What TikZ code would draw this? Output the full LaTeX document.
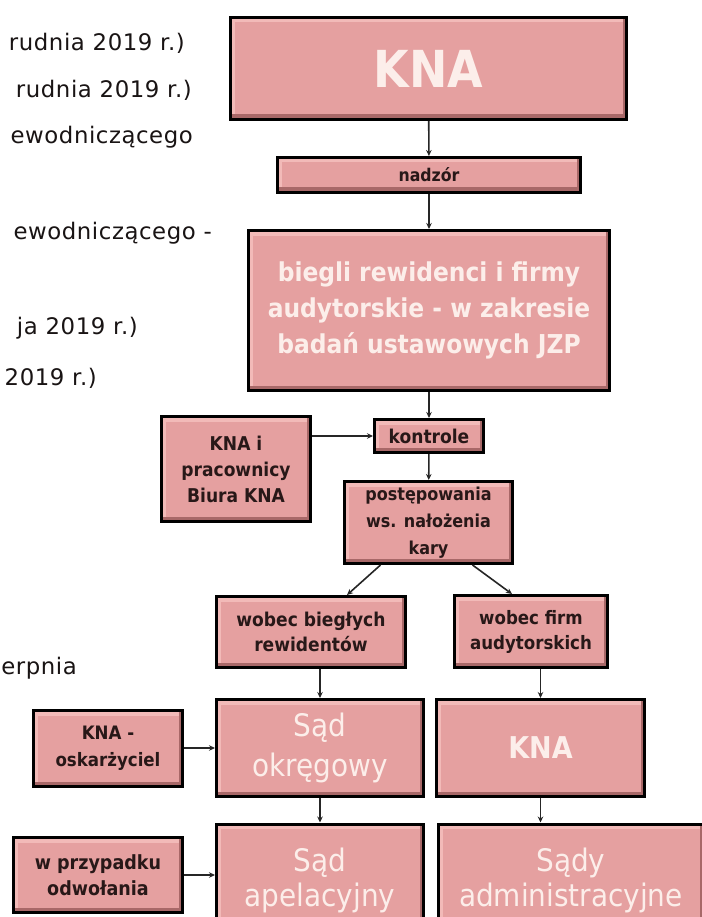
\documentclass[tikz,border=0pt]{standalone}
\usepackage{fontspec}
\setmainfont{DejaVu Sans Condensed}
\newfontfamily\sidefont[LetterSpace=2.5]{DejaVu Sans}
\usetikzlibrary{arrows.meta,calc}
\definecolor{boxpink}{RGB}{229,160,160}
\definecolor{boxlight}{RGB}{242,186,184}
\definecolor{boxdark}{RGB}{168,104,104}
\definecolor{lighttext}{RGB}{252,238,234}
\definecolor{darktext}{RGB}{40,24,24}
\definecolor{sidetext}{RGB}{25,20,20}
\newcommand{\fs}[2]{\fontsize{#1}{#2}\selectfont}
\tikzset{
  box/.style={draw=black, line width=3pt, fill=boxpink, inner sep=0pt, align=center,
    path picture={
      \fill[boxdark] (path picture bounding box.south west) rectangle ([yshift=5pt]path picture bounding box.south east);
      \fill[boxdark] (path picture bounding box.south east) rectangle ([xshift=-4pt]path picture bounding box.north east);
      \fill[boxlight] ([yshift=-5pt]path picture bounding box.north west) rectangle ([xshift=-4pt]path picture bounding box.north east);
      \fill[boxlight] ([yshift=5pt]path picture bounding box.south west) rectangle ([xshift=4pt,yshift=-5pt]path picture bounding box.north west);
      \fill[boxpink] ([xshift=4pt,yshift=5pt]path picture bounding box.south west) rectangle ([xshift=-4pt,yshift=-5pt]path picture bounding box.north east);
    }},
  bigtxt/.style={text=lighttext},
  smalltxt/.style={text=darktext, font=\bfseries},
  side/.style={anchor=east, text=sidetext, inner sep=0pt, font=\sidefont\fs{22.8}{28}},
  conn/.style={line width=1.6pt, draw=black!85, -{Stealth[length=6pt,width=5.5pt]}}
}
\begin{document}
\begin{tikzpicture}[x=1pt,y=-1pt]
\useasboundingbox (0,0) rectangle (701,917);
\fill[white] (0,0) rectangle (701,917);
% side text (partly visible)
\node[side] (t1) at (185,43) {rudnia 2019 r.)};
\node[side] (t2) at (192,90) {rudnia 2019 r.)};
\node[side] (t3) at (193,137) {ewodniczącego};
\node[side] (t4) at (212,233) {ewodniczącego~-};
\node[side] (t5) at (138,328) {ja 2019 r.)};
\node[side] (t6) at (97,378) {2019 r.)};
\node[side] (t7) at (77,668) {erpnia};
% boxes
\node[box, bigtxt, font=\bfseries\fs{51}{56}, minimum width=396pt, minimum height=102pt] (kna) at (428.5,68.5) {KNA};
\node[box, smalltxt, font=\bfseries\fs{17.5}{20}, minimum width=303pt, minimum height=35pt] (nadzor) at (429,175) {nadzór};
\node[box, bigtxt, font=\bfseries\fs{26}{36}, minimum width=361pt, minimum height=160pt] (biegli) at (429,310.5) {biegli rewidenci i firmy\\audytorskie - w zakresie\\badań ustawowych JZP};
\node[box, smalltxt, font=\bfseries\fs{19}{26}, minimum width=149pt, minimum height=105pt] (knai) at (236,469) {KNA i\\pracownicy\\Biura KNA};
\node[box, smalltxt, font=\bfseries\fs{19}{22}, minimum width=109pt, minimum height=33pt] (kontrole) at (429,436) {kontrole};
\node[box, smalltxt, font=\bfseries\fs{17.8}{27}, minimum width=168pt, minimum height=82pt] (post) at (428.5,522.5) {postępowania\\ws. nałożenia\\kary};
\node[box, smalltxt, font=\bfseries\fs{19}{25}, minimum width=189pt, minimum height=71pt] (wbr) at (311,632) {wobec biegłych\\rewidentów};
\node[box, smalltxt, font=\bfseries\fs{18.5}{25}, minimum width=153pt, minimum height=72pt] (wfa) at (531,631.5) {wobec firm\\audytorskich};
\node[box, bigtxt, font=\fs{31}{40}, minimum width=207pt, minimum height=97pt] (sok) at (320,748) {Sąd\\okręgowy};
\node[box, bigtxt, font=\bfseries\fs{30}{36}, minimum width=208pt, minimum height=97pt] (kna2) at (540.5,748) {KNA};
\node[box, bigtxt, font=\fs{31}{35}, minimum width=207pt, minimum height=112pt] (sap) at (320,880) {Sąd\\apelacyjny};
\node[box, bigtxt, font=\fs{31}{35}, minimum width=265pt, minimum height=112pt] (sadm) at (571,880) {Sądy\\administracyjne};
\node[box, smalltxt, font=\bfseries\fs{18.5}{27}, minimum width=149pt, minimum height=76pt] (oska) at (108,748.5) {KNA -\\oskarżyciel};
\node[box, smalltxt, font=\bfseries\fs{19.5}{26}, minimum width=169pt, minimum height=75pt] (wprz) at (98,875) {w przypadku\\odwołania};
% connectors
\draw[conn] (kna) -- (nadzor);
\draw[conn] (nadzor) -- (biegli);
\draw[conn] (biegli) -- (kontrole);
\draw[conn] (knai.east |- kontrole.west) -- (kontrole.west);
\draw[conn] (kontrole) -- (post);
\draw[conn] ($(post.south)+(-48,0)$) -- ($(wbr.north)+(36,0)$);
\draw[conn] ($(post.south)+(44,0)$) -- ($(wfa.north)+(-19,0)$);
\draw[conn] (wbr.south -| sok.north) -- (sok.north);
\draw[conn] (wfa.south -| kna2.north) -- (kna2.north);
\draw[conn] (oska.east |- sok.west) -- (sok.west);
\draw[conn] (sok.south) -- (sok.south |- sap.north);
\draw[conn] (kna2.south) -- (kna2.south |- sadm.north);
\draw[conn] (wprz.east) -- (wprz.east -| sap.west);
\end{tikzpicture}
\end{document}
